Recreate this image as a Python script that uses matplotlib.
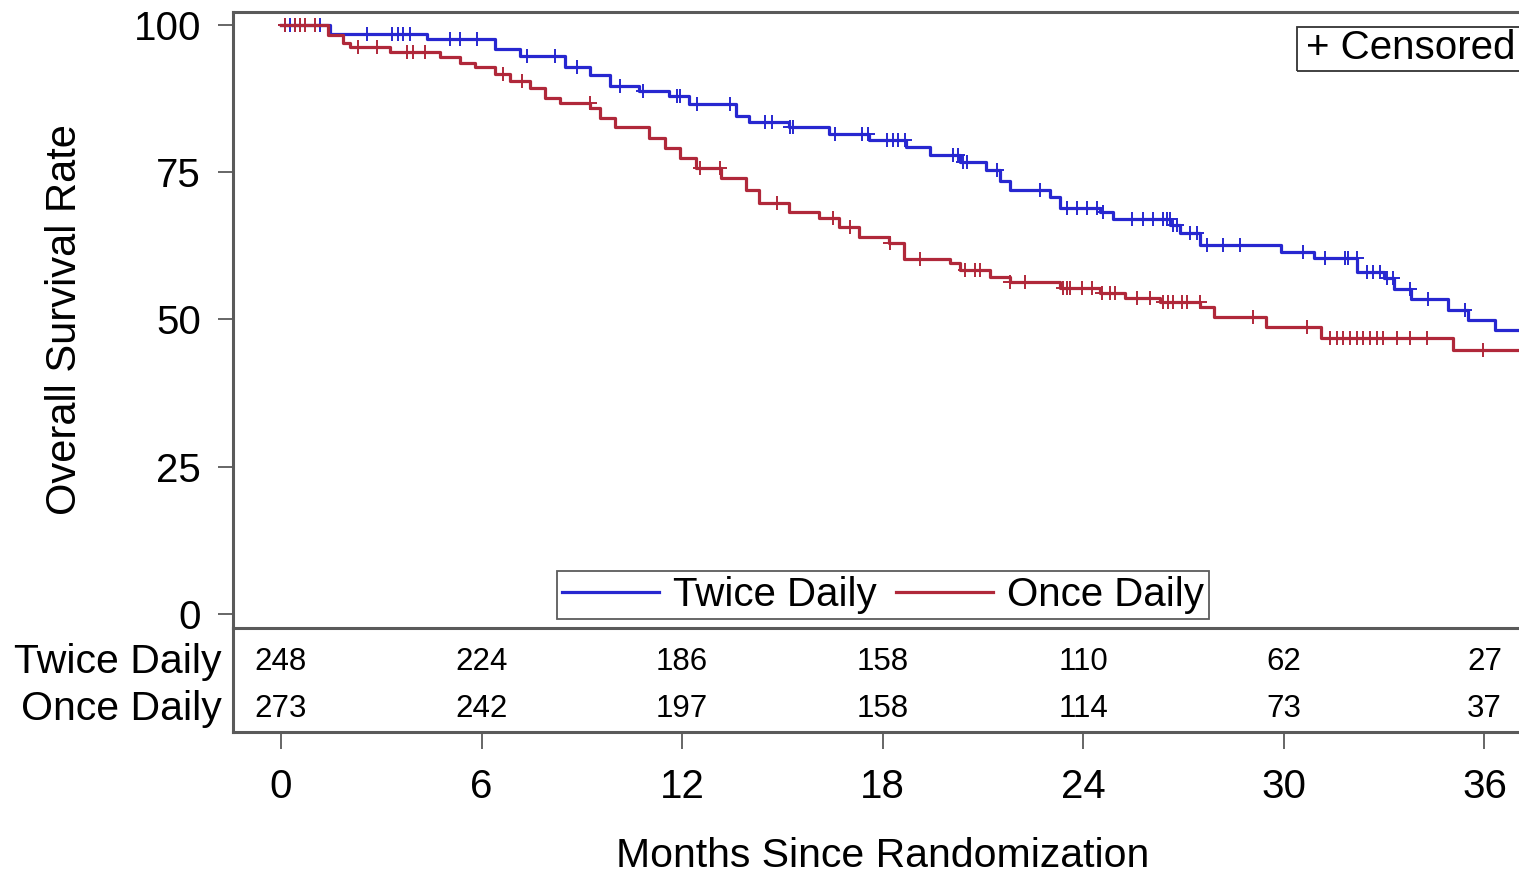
import numpy as np
import matplotlib
matplotlib.use("Agg")
import matplotlib.pyplot as plt
from matplotlib.patches import Rectangle

plt.rcParams['font.family'] = ['Liberation Sans', 'DejaVu Sans']

# Kaplan-Meier step estimates (months, % surviving after each drop)
twice_time = [0, 1.47, 4.37, 6.4, 7.15, 8.5, 9.25, 9.85, 10.7, 11.6, 12.2, 13.6, 14.0,
              15.2, 16.4, 17.6, 18.7, 19.4, 20.3, 21.1, 21.5, 21.8, 23.0, 23.3, 24.5,
              24.9, 26.6, 26.9, 27.5, 29.9, 30.9, 32.2, 33.0, 33.3, 33.8, 34.9, 35.5, 36.3]
twice_surv = [100, 98.4, 97.7, 95.9, 94.7, 92.8, 91.5, 89.6, 88.8, 88.0, 86.6, 84.5, 83.6,
              82.6, 81.4, 80.5, 79.3, 78.0, 76.8, 75.3, 73.5, 72.0, 70.8, 69.0, 68.2,
              67.0, 66.0, 64.7, 62.7, 61.4, 60.4, 58.1, 57.0, 55.2, 53.4, 51.6, 49.9, 48.2]

once_time = [0, 1.4, 1.85, 2.05, 3.25, 4.75, 5.35, 5.8, 6.4, 6.85, 7.45, 7.9, 8.35, 9.25,
             9.55, 10.0, 11.0, 11.5, 11.95, 12.4, 13.15, 13.9, 14.3, 15.2, 16.1, 16.7,
             17.3, 18.2, 18.65, 20.0, 20.3, 21.2, 21.8, 23.3, 24.5, 25.25, 26.3, 27.5,
             27.9, 29.45, 31.1, 35.05]
once_surv = [100, 98.3, 97.0, 96.3, 95.4, 94.6, 93.6, 92.8, 91.6, 90.4, 89.3, 87.6, 86.8,
             85.9, 84.2, 82.6, 80.8, 79.1, 77.4, 75.7, 74.0, 72.0, 69.8, 68.3, 67.3, 65.7,
             64.0, 63.0, 60.3, 59.5, 58.4, 57.2, 56.3, 55.4, 54.5, 53.7, 53.0, 52.1,
             50.4, 48.7, 46.9, 44.8]

# Censoring times (months)
twice_censor = [0.12, 0.27, 0.42, 0.57, 1.17, 2.57, 3.32, 3.5, 3.65, 3.86, 5.06, 5.35, 5.86,
                7.36, 8.2, 8.86, 10.14, 10.83, 11.85, 11.94, 12.44, 13.43, 14.48, 14.69,
                15.22, 15.31, 16.57, 17.38, 17.56, 18.13, 18.31, 18.46, 18.67, 20.1, 20.25,
                20.4, 20.52, 21.42, 22.7, 23.51, 23.81, 24.11, 24.41, 24.59, 25.46, 25.79,
                26.08, 26.38, 26.5, 26.59, 26.68, 26.8, 27.19, 27.4, 27.7, 28.18, 28.69,
                30.57, 31.23, 31.83, 31.92, 32.19, 32.49, 32.67, 32.88, 33.09, 33.26,
                33.77, 34.31, 35.42]
once_censor = [0.12, 0.42, 0.57, 0.72, 1.02, 2.3, 2.87, 3.77, 3.95, 4.31, 6.64, 7.21, 9.24,
               12.53, 13.13, 14.84, 16.51, 17.02, 18.22, 19.12, 20.46, 20.76, 20.91, 21.81,
               22.26, 23.39, 23.51, 23.6, 23.96, 24.26, 24.56, 24.8, 24.95, 25.61, 26.0,
               26.38, 26.53, 26.68, 26.95, 27.1, 27.49, 29.08, 30.69, 31.38, 31.59, 31.77,
               31.98, 32.19, 32.37, 32.58, 32.79, 32.97, 33.39, 33.77, 34.28, 35.96]

follow_up_end = 38.0

# Numbers at risk
risk_months = [0, 6, 12, 18, 24, 30, 36]
twice_at_risk = [248, 224, 186, 158, 110, 62, 27]
once_at_risk = [273, 242, 197, 158, 114, 73, 37]

groups = ["Twice Daily", "Once Daily"]
colors = ["#2727d0", "#b0283a"]

W, H = 1519, 874
fig = plt.figure(figsize=(W / 100, H / 100), dpi=100)

x_left_px, x_zero_px, px_per_month = 233, 281, 33.43
xmin = (x_left_px - x_zero_px) / px_per_month
xmax = follow_up_end
right_px = x_zero_px + xmax * px_per_month


def fx(px):
    return px / W


def fy(py):
    return 1 - py / H


ax = fig.add_axes([fx(x_left_px), fy(628), fx(right_px - x_left_px), (628 - 12) / H])
tab = fig.add_axes([fx(x_left_px), fy(732), fx(right_px - x_left_px), (732 - 628) / H],
                   sharex=ax)
tab.patch.set_alpha(0)
ax.set_zorder(2)
ax.patch.set_alpha(0)

spine_col = "#5a5a5a"


def step_value(times, surv, t):
    i = np.searchsorted(times, t, side="right") - 1
    return np.asarray(surv)[i]


series = [(twice_time, twice_surv, twice_censor), (once_time, once_surv, once_censor)]
handles = []
for (t, s, c), name, col in zip(series, groups, colors):
    tt = list(t) + [follow_up_end]
    ss = list(s) + [s[-1]]
    h, = ax.step(tt, ss, where="post", color=col, lw=2.3, label=name)
    handles.append(h)
    cy = [step_value(t, s, ci) for ci in c]
    ax.plot(c, cy, linestyle="none", marker="+", markersize=10, markeredgewidth=1.4,
            color=col)

ax.set_xlim(xmin, xmax)
ax.set_ylim(-2.4, 102.2)
ax.set_yticks([0, 25, 50, 75, 100])
ax.tick_params(axis="y", labelsize=29, length=11, width=1.3, color=spine_col, pad=12)
ax.tick_params(axis="x", bottom=False, labelbottom=False)
for sp in ax.spines.values():
    sp.set_color(spine_col)
    sp.set_linewidth(2.2)

leg = ax.legend(handles=handles, loc="lower center", bbox_to_anchor=(0.493, 0.015),
                ncol=2, fontsize=29, frameon=True, fancybox=False, handlelength=2.4,
                handletextpad=0.35, columnspacing=0.5, borderpad=0.12,
                borderaxespad=0.0)
leg.get_frame().set_edgecolor("#333333")
leg.get_frame().set_linewidth(1.3)

# Censoring key box
fig.patches.append(Rectangle((fx(1297), fy(71)), fx(1560 - 1297), (71 - 27) / H,
                             transform=fig.transFigure, fill=False,
                             edgecolor="#333333", linewidth=1.3))
fig.text(fx(1306), fy(48), "+ Censored", fontsize=29, ha="left", va="center")

# At-risk table
tab.set_ylim(0, 1)
tab.set_yticks([])
tab.spines["top"].set_visible(False)
tab.spines["right"].set_visible(False)
for sp in ("left", "bottom"):
    tab.spines[sp].set_color(spine_col)
    tab.spines[sp].set_linewidth(2.2)
row_px = [662, 709]
for counts, rp, name in zip([twice_at_risk, once_at_risk], row_px, groups):
    ry = (732 - rp) / 104
    for m, n in zip(risk_months, counts):
        tab.text(m, ry, str(n), ha="center", va="center", fontsize=22.5)
    fig.text(fx(222), fy(rp), name, ha="right", va="center", fontsize=29.5)
tab.set_xticks(risk_months)
tab.tick_params(axis="x", labelsize=29, length=12, width=1.3, color=spine_col, pad=14)

fig.text(fx(883), fy(856), "Months Since Randomization", ha="center", va="center",
         fontsize=29.5)
fig.text(fx(65), fy(320), "Overall Survival Rate", ha="center", va="center",
         rotation=90, fontsize=30)

fig.savefig("out.png", dpi=100)
